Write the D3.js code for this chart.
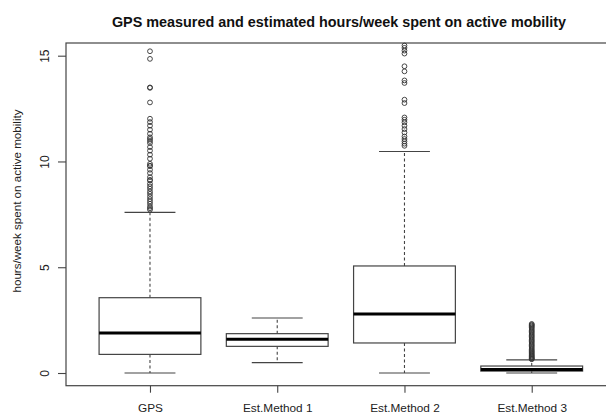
<!DOCTYPE html>
<html><head><meta charset="utf-8">
<script src="https://cdn.jsdelivr.net/npm/d3@7"></script>
<style>html,body{margin:0;padding:0;background:#fff;}svg{display:block;}</style>
</head><body>
<svg id="c" width="606" height="415"></svg>
<script>
const categories = ["GPS", "Est.Method 1", "Est.Method 2", "Est.Method 3"];
const lowerWhisker = [0.0, 0.49, 0.0, 0.0];
const q1 = [0.88, 1.26, 1.42, 0.09];
const median = [1.89, 1.59, 2.79, 0.17];
const q3 = [3.56, 1.86, 5.06, 0.33];
const upperWhisker = [7.59, 2.60, 10.47, 0.62];
const outliersGPS = [15.21, 14.85, 13.50, 13.48, 12.79, 12.02, 11.86, 11.69, 11.50, 11.31, 11.14, 11.06, 10.97, 10.87, 10.68, 10.51, 10.32, 10.13, 9.89, 9.80, 9.78, 9.61, 9.45, 9.26, 9.13, 9.10, 8.94, 8.82, 8.71, 8.58, 8.47, 8.34, 8.22, 8.11, 8.00, 7.87, 7.79, 7.72];
const outliersM1 = [];
const outliersM2 = [15.48, 15.37, 15.24, 15.10, 14.50, 14.26, 13.83, 13.71, 12.92, 12.76, 12.08, 11.97, 11.85, 11.69, 11.53, 11.37, 11.18, 11.06, 10.95, 10.84, 10.74];
const outliersM3 = [2.32, 2.28, 2.24, 2.19, 2.14, 2.08, 2.02, 1.96, 1.90, 1.84, 1.78, 1.72, 1.66, 1.60, 1.54, 1.48, 1.42, 1.36, 1.30, 1.24, 1.18, 1.12, 1.06, 1.01, 0.96, 0.91, 0.86, 0.82, 0.78, 0.74, 0.70, 0.67, 0.65];
const outliers = [outliersGPS, outliersM1, outliersM2, outliersM3];
const yTicks = [0, 5, 10, 15];
const titleText = "GPS measured and estimated hours/week spent on active mobility";
const yLabel = "hours/week spent on active mobility";

const svg = d3.select("#c");
const x = d3.scaleLinear().domain([0.34, 4.66]).range([66, 615.7]);
const y = d3.scaleLinear().domain([-0.6, 15.6]).range([385.7, 43]);
const lineCol = "#444";
const halfBox = (x(1.4) - x(1));
const halfCap = halfBox / 2;

// frame
svg.append("rect").attr("x", x(0.34)).attr("y", y(15.6))
  .attr("width", x(4.66) - x(0.34)).attr("height", y(-0.6) - y(15.6))
  .attr("fill", "none").attr("stroke", lineCol).attr("stroke-width", 1.2);

// y axis
const yAxis = svg.append("g").attr("transform", `translate(${x(0.34)},0)`)
  .call(d3.axisLeft(y).tickValues(yTicks).tickSize(8).tickSizeOuter(0).tickPadding(0));
yAxis.select(".domain").remove();
yAxis.selectAll(".tick line").attr("stroke", lineCol).attr("stroke-width", 1.1);
yAxis.selectAll(".tick text").remove();
yAxis.selectAll(".tick").append("text")
  .attr("transform", "translate(-21,0) rotate(-90)")
  .attr("text-anchor", "middle").attr("dy", "0.35em")
  .attr("fill", "#222").style("font-family", "Liberation Sans, Arial, sans-serif").style("font-size", "12px")
  .text(d => d);

// x axis
const xAxis = svg.append("g").attr("transform", `translate(0,${y(-0.6)})`)
  .call(d3.axisBottom(x).tickValues([1, 2, 3, 4]).tickSize(7).tickSizeOuter(0).tickPadding(11)
    .tickFormat((d, i) => categories[i]));
xAxis.select(".domain").remove();
xAxis.selectAll(".tick line").attr("stroke", lineCol).attr("stroke-width", 1.1);
xAxis.selectAll(".tick text").attr("fill", "#222")
  .style("font-family", "Liberation Sans, Arial, sans-serif").style("font-size", "11.8px");

// boxes
categories.forEach((c, i) => {
  const cx = x(i + 1);
  const g = svg.append("g");
  g.append("line").attr("x1", cx).attr("x2", cx).attr("y1", y(q3[i])).attr("y2", y(upperWhisker[i]))
    .attr("stroke", lineCol).attr("stroke-dasharray", "3,2.5").attr("stroke-width", 1.1);
  g.append("line").attr("x1", cx).attr("x2", cx).attr("y1", y(q1[i])).attr("y2", y(lowerWhisker[i]))
    .attr("stroke", lineCol).attr("stroke-dasharray", "3,2.5").attr("stroke-width", 1.1);
  [upperWhisker[i], lowerWhisker[i]].forEach(v => {
    g.append("line").attr("x1", cx - halfCap).attr("x2", cx + halfCap).attr("y1", y(v)).attr("y2", y(v))
      .attr("stroke", lineCol).attr("stroke-width", 1.2);
  });
  g.append("rect").attr("x", cx - halfBox).attr("width", 2 * halfBox)
    .attr("y", y(q3[i])).attr("height", y(q1[i]) - y(q3[i]))
    .attr("fill", "#fff").attr("stroke", lineCol).attr("stroke-width", 1.2);
  g.append("line").attr("x1", cx - halfBox).attr("x2", cx + halfBox).attr("y1", y(median[i])).attr("y2", y(median[i]))
    .attr("stroke", "#000").attr("stroke-width", 3);
  g.selectAll("circle").data(outliers[i]).join("circle")
    .attr("cx", cx).attr("cy", d => y(d)).attr("r", 2.4)
    .attr("fill", "none").attr("stroke", "#333").attr("stroke-width", 0.9);
});

// title
svg.append("text").attr("x", 339).attr("y", 27).attr("text-anchor", "middle")
  .attr("fill", "#111").style("font-family", "Liberation Sans, Arial, sans-serif")
  .style("font-size", "14.4px").style("font-weight", "bold").text(titleText);

// y label
svg.append("text").attr("transform", "translate(21,201) rotate(-90)").attr("text-anchor", "middle")
  .attr("fill", "#222").style("font-family", "Liberation Sans, Arial, sans-serif")
  .style("font-size", "11.6px").text(yLabel);
</script>
</body></html>
